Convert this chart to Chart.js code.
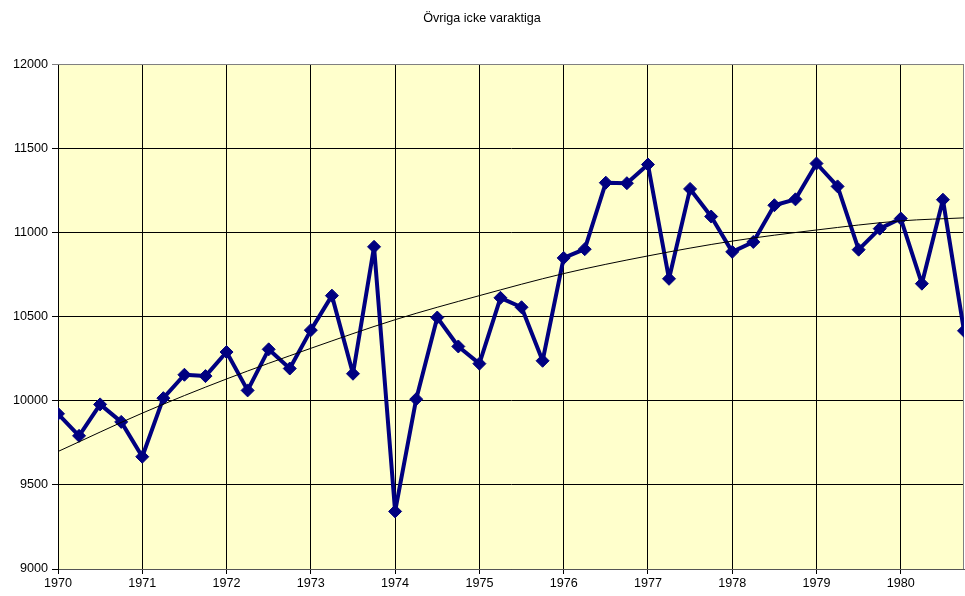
<!DOCTYPE html>
<html>
<head>
<meta charset="utf-8">
<title>Övriga icke varaktiga</title>
<script src="https://cdn.jsdelivr.net/npm/chart.js@4.4.0/dist/chart.umd.min.js"></script>
<style>
  html, body { margin: 0; padding: 0; background: #fff; }
</style>
</head>
<body>
<canvas id="chart" width="965" height="596"></canvas>
<script>
const chartTitle = 'Övriga icke varaktiga';

// kvartal (år + kvartal/4)
const quarters = [
    1970, 1970.25, 1970.5, 1970.75,
    1971, 1971.25, 1971.5, 1971.75,
    1972, 1972.25, 1972.5, 1972.75,
    1973, 1973.25, 1973.5, 1973.75,
    1974, 1974.25, 1974.5, 1974.75,
    1975, 1975.25, 1975.5, 1975.75,
    1976, 1976.25, 1976.5, 1976.75,
    1977, 1977.25, 1977.5, 1977.75,
    1978, 1978.25, 1978.5, 1978.75,
    1979, 1979.25, 1979.5, 1979.75,
    1980, 1980.25, 1980.5, 1980.75
];
const values = [
    9922, 9791, 9978, 9874,
    9667, 10015, 10154, 10146,
    10289, 10061, 10305, 10191,
    10419, 10624, 10160, 10914,
    9342, 10009, 10494, 10322,
    10220, 10611, 10555, 10237,
    10848, 10900, 11295, 11292,
    11403, 10724, 11258, 11094,
    10884, 10943, 11161, 11196,
    11409, 11273, 10897, 11022,
    11082, 10695, 11194, 10415
];

// trendlinje avläst vid varje årsskifte
const trendYears = [1970, 1971, 1972, 1973, 1974, 1975, 1976, 1977, 1978, 1979, 1980, 1980.75];
const trendValues = [9698, 9926, 10129, 10311, 10481, 10624, 10755, 10860, 10948, 11014, 11068, 11086];

const yearTicks = [1970, 1971, 1972, 1973, 1974, 1975, 1976, 1977, 1978, 1979, 1980];
const xMin = 1970;
const xMax = 1980.75;
const yMin = 9000;
const yMax = 12000;
const yStep = 500;

const plotBackground = {
    id: 'plotBackground',
    beforeDraw(chart) {
        const { ctx, chartArea: a } = chart;
        ctx.save();
        ctx.fillStyle = '#FFFFCC';
        ctx.fillRect(a.left, a.top, a.right - a.left, a.bottom - a.top);
        ctx.restore();
    },
    beforeDatasetsDraw(chart) {
        const { ctx, chartArea: a } = chart;
        ctx.save();
        ctx.strokeStyle = '#808080';
        ctx.lineWidth = 1;
        ctx.beginPath();
        ctx.moveTo(a.left, a.top + 0.5);
        ctx.lineTo(a.right - 0.5, a.top + 0.5);
        ctx.lineTo(a.right - 0.5, a.bottom);
        ctx.stroke();
        ctx.restore();
    }
};

Chart.defaults.font.family = '"Liberation Sans", Arial, sans-serif';
Chart.defaults.font.size = 12.6;
Chart.defaults.color = '#000';

new Chart(document.getElementById('chart'), {
    type: 'line',
    data: {
        datasets: [{
            label: 'Trend',
            data: trendYears.map((x, i) => ({ x: x, y: trendValues[i] })),
            borderColor: '#000',
            borderWidth: 1,
            pointRadius: 0,
            cubicInterpolationMode: 'monotone',
            fill: false
        }, {
            label: chartTitle,
            data: quarters.map((x, i) => ({ x: x, y: values[i] })),
            borderColor: '#000080',
            backgroundColor: '#000080',
            borderWidth: 4,
            borderJoinStyle: 'round',
            pointStyle: 'rectRot',
            pointRadius: 6.5,
            pointBorderWidth: 1,
            pointBorderColor: '#000080',
            tension: 0,
            fill: false
        }]
    },
    options: {
        responsive: false,
        animation: false,
        layout: { autoPadding: false, padding: { top: 0, right: 1, bottom: 0, left: 0 } },
        plugins: {
            legend: { display: false },
            tooltip: { enabled: false },
            title: {
                display: true,
                text: chartTitle,
                font: { size: 12.6, weight: 'normal' },
                color: '#000',
                padding: { top: 10.5, bottom: 38.4 }
            }
        },
        scales: {
            x: {
                type: 'linear',
                min: xMin,
                max: xMax,
                afterBuildTicks: axis => { axis.ticks = yearTicks.map(v => ({ value: v })); },
                afterFit: axis => {
                    axis.height = 27;
                    axis.paddingRight = 0;
                    axis.paddingLeft = 0;
                },
                ticks: { padding: 2, maxRotation: 0, callback: v => String(v) },
                grid: { color: '#000', lineWidth: 1, tickLength: 5 },
                border: { color: '#555', width: 1 }
            },
            y: {
                min: yMin,
                max: yMax,
                afterFit: axis => { axis.width = 58; },
                ticks: { stepSize: yStep, padding: 4, callback: v => String(v) },
                grid: {
                    color: ctx => (ctx.tick && ctx.tick.value === yMax ? '#808080' : '#000'),
                    lineWidth: 1,
                    tickLength: 6
                },
                border: { color: '#000', width: 1 }
            }
        }
    },
    plugins: [plotBackground]
});
</script>
</body>
</html>
